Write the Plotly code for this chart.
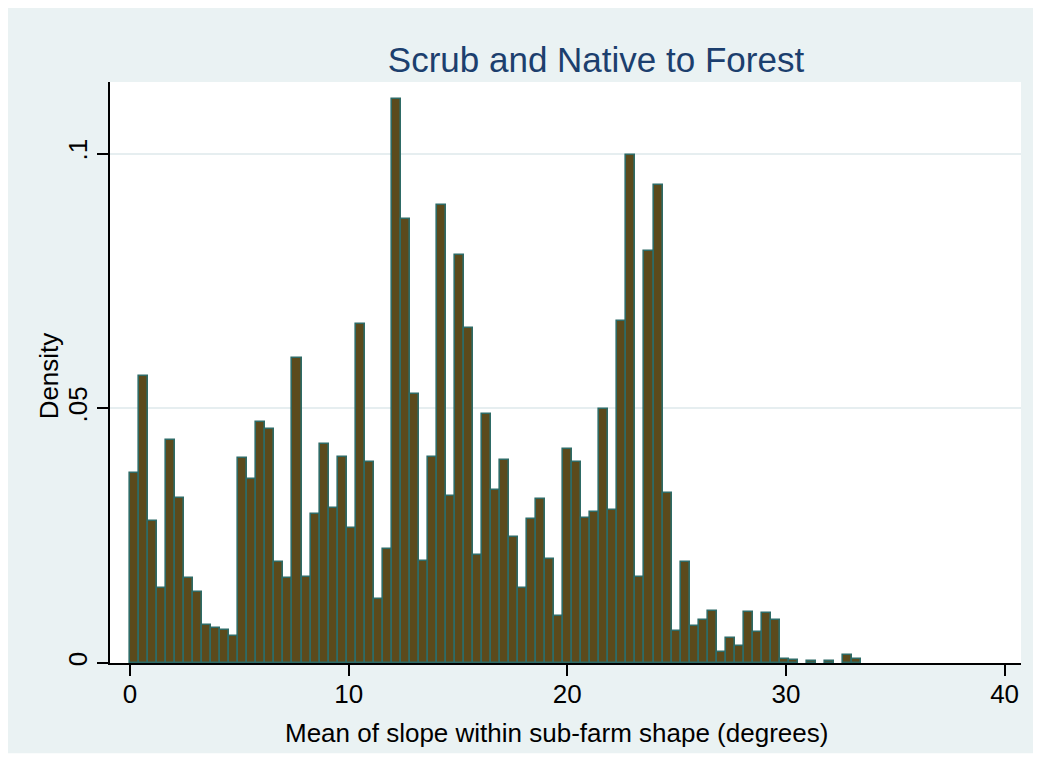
import plotly.graph_objects as go

# Histogram data (density per bin)
bin_start = 0.0
bin_width = 0.4128
density = [
    0.0373, 0.0564, 0.0279, 0.0147, 0.0437, 0.0323, 0.0167, 0.0140, 0.0075, 0.0068,
    0.0065, 0.0053, 0.0403, 0.0362, 0.0474, 0.0459, 0.0199, 0.0167, 0.0598, 0.0168,
    0.0292, 0.0429, 0.0304, 0.0405, 0.0266, 0.0665, 0.0394, 0.0125, 0.0223, 0.1108,
    0.0871, 0.0529, 0.0200, 0.0405, 0.0900, 0.0328, 0.0801, 0.0657, 0.0212, 0.0488,
    0.0339, 0.0398, 0.0248, 0.0148, 0.0282, 0.0321, 0.0204, 0.0092, 0.0420, 0.0394,
    0.0285, 0.0296, 0.0499, 0.0300, 0.0671, 0.0998, 0.0168, 0.0809, 0.0938, 0.0333,
    0.0063, 0.0198, 0.0073, 0.0084, 0.0102, 0.0022, 0.0050, 0.0033, 0.0101, 0.0061,
    0.0099, 0.0084, 0.0008, 0.0006, None, 0.0004, None, 0.0004, None, 0.0016,
    0.0007,
]
x_tick_vals = [0, 10, 20, 30, 40]
y_tick_vals = [0, 0.05, 0.1]
y_tick_text = ["0", ".05", ".1"]

title_text = "Scrub and Native to Forest"
x_title = "Mean of slope within sub-farm shape (degrees)"
y_title = "Density"

centers = [bin_start + bin_width * (i + 0.5) for i in range(len(density))]

BG = "#EAF2F3"
FONT = "Liberation Sans, Arial, sans-serif"

fig = go.Figure()
fig.add_trace(go.Bar(
    x=centers, y=density, width=bin_width,
    marker=dict(color="#5B4A1C", line=dict(color="#2E6B66", width=1.6)),
    hoverinfo="x+y",
))

fig.update_layout(
    width=1041, height=760,
    margin=dict(l=102, r=28, t=74, b=105, autoexpand=False),
    paper_bgcolor="white",
    plot_bgcolor="white",
    showlegend=False,
    bargap=0,
    font=dict(family=FONT, color="black"),
    title=dict(text=title_text, x=0.5648, xanchor="center", y=0.9316, yanchor="middle",
               font=dict(size=35, color="#1C3F6E", family=FONT)),
    shapes=[
        dict(type="rect", xref="paper", yref="paper",
             x0=-0.3, x1=1.0154, y0=-0.1554, y1=1.3,
             fillcolor=BG, line=dict(width=0), layer="below"),
        dict(type="rect", xref="paper", yref="paper",
             x0=0, x1=1, y0=0, y1=1,
             fillcolor="white", line=dict(width=0), layer="below"),
    ],
    annotations=[
        dict(text=x_title, xref="paper", yref="paper", x=0.4896, y=-0.121,
             xanchor="center", yanchor="middle", showarrow=False,
             font=dict(size=26, color="black", family=FONT)),
        dict(text=y_title, xref="paper", yref="paper", x=-0.067, y=0.495,
             xanchor="center", yanchor="middle", showarrow=False, textangle=-90,
             font=dict(size=26, color="black", family=FONT)),
    ],
)

fig.update_xaxes(
    range=[-0.915, 40.75],
    tickvals=x_tick_vals,
    ticks="outside", ticklen=11, tickwidth=1.5, tickcolor="black",
    tickfont=dict(size=26, color="black"), ticklabelstandoff=-4,
    showline=True, linecolor="black", linewidth=1.5,
    showgrid=False, zeroline=False, automargin=False,
)
fig.update_yaxes(
    range=[0, 0.11406],
    tickvals=y_tick_vals, ticktext=y_tick_text, tickangle=-90,
    ticks="outside", ticklen=11, tickwidth=1.5, tickcolor="black",
    tickfont=dict(size=26, color="black"),
    showline=True, linecolor="black", linewidth=1.5,
    showgrid=True, gridcolor="#E6EEF0", gridwidth=1.5,
    zeroline=False, automargin=False,
)

fig.write_html("out.html")
